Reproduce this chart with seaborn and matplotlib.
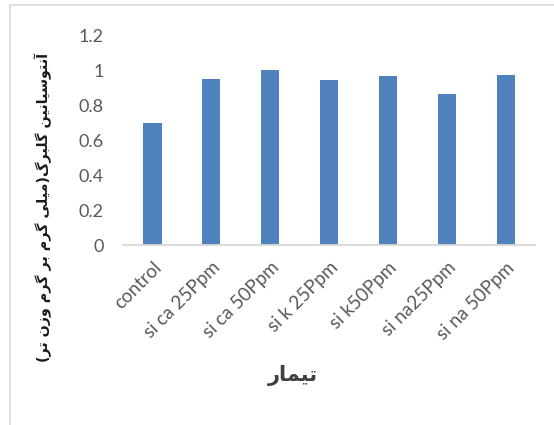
import matplotlib
matplotlib.use("Agg")
import matplotlib.pyplot as plt
import seaborn as sns
import pandas as pd
from matplotlib.lines import Line2D

categories = ["control", "si ca 25Ppm", "si ca 50Ppm", "si k 25Ppm",
              "si k50Ppm", "si na25Ppm", "si na 50Ppm"]
values = [0.70, 0.947, 1.0, 0.945, 0.966, 0.865, 0.97]
y_ticks = [0, 0.2, 0.4, 0.6, 0.8, 1, 1.2]
y_tick_labels = ["0", "0.2", "0.4", "0.6", "0.8", "1", "1.2"]
y_label = "آنتوسیانین گلبرگ(میلی گرم بر گرم وزن تر)"
x_label = "تیمار"

# --- minimal Persian shaping (matplotlib 3.10 has no complex text layout) ---
FORMS = {
    '\u0622': ('\uFE81', '\uFE82', None, None),
    '\u0627': ('\uFE8D', '\uFE8E', None, None),
    '\u0628': ('\uFE8F', '\uFE90', '\uFE91', '\uFE92'),
    '\u062A': ('\uFE95', '\uFE96', '\uFE97', '\uFE98'),
    '\u0631': ('\uFEAD', '\uFEAE', None, None),
    '\u0632': ('\uFEAF', '\uFEB0', None, None),
    '\u0633': ('\uFEB1', '\uFEB2', '\uFEB3', '\uFEB4'),
    '\u0644': ('\uFEDD', '\uFEDE', '\uFEDF', '\uFEE0'),
    '\u0645': ('\uFEE1', '\uFEE2', '\uFEE3', '\uFEE4'),
    '\u0646': ('\uFEE5', '\uFEE6', '\uFEE7', '\uFEE8'),
    '\u0648': ('\uFEED', '\uFEEE', None, None),
    '\u06CC': ('\uFBFC', '\uFBFD', '\uFBFE', '\uFBFF'),
    '\u06AF': ('\uFB92', '\uFB93', '\uFB94', '\uFB95'),
}


def shape_rtl(text):
    out = []
    n = len(text)
    for i, c in enumerate(text):
        if c not in FORMS:
            out.append(c)
            continue
        iso, fin, ini, med = FORMS[c]
        prev = text[i - 1] if i > 0 else None
        nxt = text[i + 1] if i < n - 1 else None
        pj = prev in FORMS and FORMS[prev][2] is not None
        nj = nxt in FORMS and ini is not None
        if pj and nj:
            out.append(med)
        elif pj:
            out.append(fin)
        elif nj:
            out.append(ini)
        else:
            out.append(iso)
    vis = "".join(reversed(out))
    mirror = {"(": ")", ")": "("}
    return "".join(mirror.get(ch, ch) for ch in vis)


sns.set_theme(style="white")
plt.rcParams["font.family"] = ["Lato", "DejaVu Sans"]

df = pd.DataFrame({"cat": categories, "val": values})

fig = plt.figure(figsize=(5.54, 4.25), dpi=100)
ax = fig.add_axes([0.222, 0.4235, 0.744, 0.4941])

sns.barplot(data=df, x="cat", y="val", color="#4F81BD", saturation=1,
            width=0.31, ax=ax, edgecolor="none")

ax.set_ylim(0, 1.2)
ax.set_xlim(-0.5, len(categories) - 0.5)
ax.set_yticks(y_ticks)
ax.set_yticklabels(y_tick_labels)
ax.tick_params(axis="y", length=0, pad=14, labelsize=13, labelcolor="#595959")
ax.tick_params(axis="x", which="major", length=0, pad=10, labelsize=13.5,
               labelcolor="#595959")
ax.set_xticks(range(len(categories)))
ax.set_xticklabels(categories, rotation=45, ha="right", rotation_mode="anchor")
for lab in ax.get_yticklabels():
    lab.set_horizontalalignment("right")

ax.set_xticks([i - 0.5 for i in range(len(categories) + 1)], minor=True)
ax.tick_params(axis="x", which="minor", length=5, width=1.3, color="#D9D9D9",
               direction="out")

for s in ["top", "right", "left"]:
    ax.spines[s].set_visible(False)
ax.spines["bottom"].set_color("#D9D9D9")
ax.spines["bottom"].set_linewidth(1.3)
ax.set_xlabel("")
ax.set_ylabel("")

fig.text(293 / 554, 1 - 375 / 425, shape_rtl(x_label), ha="center", va="center",
         fontsize=15, fontweight="bold", color="#404040",
         family=["DejaVu Sans"])
fig.text(43 / 554, 1 - 207 / 425, shape_rtl(y_label), ha="center", va="center",
         rotation=90, fontsize=10.3, fontweight="bold", color="#1a1a1a",
         family=["DejaVu Sans"])

# outer chart border (cropped)
fig.add_artist(Line2D([9.5 / 554, 1], [1 - 4.5 / 425, 1 - 4.5 / 425],
                      transform=fig.transFigure, color="#D9D9D9", lw=1.2))
fig.add_artist(Line2D([9.5 / 554, 9.5 / 554], [0, 1 - 4.5 / 425],
                      transform=fig.transFigure, color="#D9D9D9", lw=1.2))

fig.savefig("out.png", dpi=100, facecolor="white")
